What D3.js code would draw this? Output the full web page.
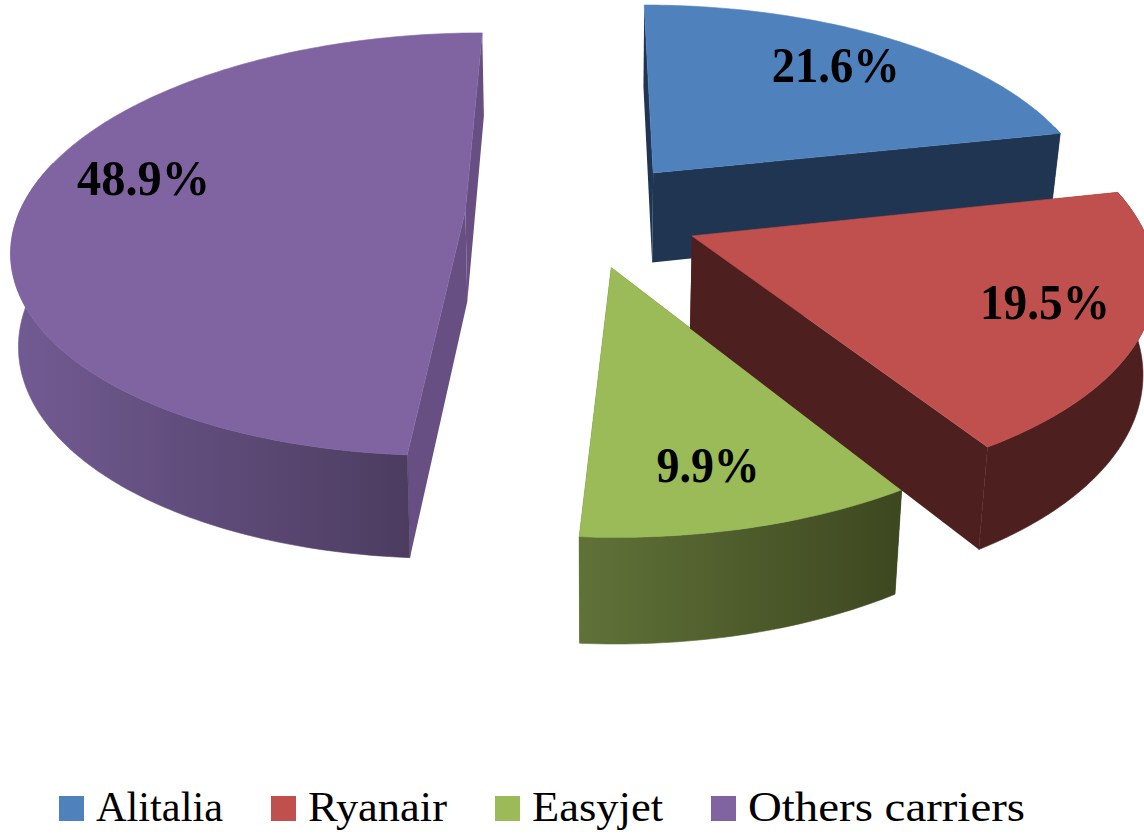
<!DOCTYPE html>
<html><head><meta charset="utf-8">
<script src="https://cdn.jsdelivr.net/npm/d3@7/dist/d3.min.js"></script>
<style>html,body{margin:0;padding:0;background:#fff}svg{display:block}text{font-family:"Liberation Serif",serif;fill:#000}</style>
</head><body><svg id="c" width="1144" height="835"></svg>
<script>
const categories = ["Alitalia","Ryanair","Easyjet","Others carriers"];
const values = [21.6,19.5,9.9,48.9];
const topColors = ["#4f81bd","#c0504d","#9bbb59","#8064a2"];
const faceColors = ["#1f3552","#4e1f1f","#3f4a22","#674f84"];
const rimFrom = ["#1f3552","#4e1f1f","#607238","#725b93"];
const rimTo = ["#1f3552","#4e1f1f","#3d4720","#4c3c60"];
const offsetRight = [0.153,0.231,0.052,-0.273];
const offsetFar = [0.197,-0.112,-0.256,0.01];
const drawOrder = [3,0,2,1];
const labelNudge = [[-3,-1],[9,-1],[-6,7],[19,-26]];
const legendX = [59,271,495,711];
const legendW = [127,139,131,277];
const labelW = [128,130,103,133];

const svg = d3.select("#c");
const cx=587, vy=-1073, k=0.347, a0=0.000778, b=0.000125, depthBase=31, depthSlope=0.047, sx0=610, shrinkR=0.977, shrinkL=0.987;
const color = d3.scaleOrdinal(categories, topColors);
const total = d3.sum(values);
const pie = d3.pie().sort(null).startAngle(0).endAngle(2*Math.PI)(values.map(v=>v/total));
const pathLine = d3.line();
const defs = svg.append("defs");

function proj(gx, gy){ // gx right, gy far in ground units
  const D = 1/(a0 + b*gy);
  return {x: cx + k*D*gx, y: vy + D, D};
}
const topPt = p => [p.x, p.y];
const botPt = p => [sx0 + (p.x-sx0)*(p.x<sx0?shrinkL:shrinkR), p.y + depthBase + depthSlope*p.D];

drawOrder.forEach(i=>{
  const s = pie[i];
  const ox = offsetRight[i], oy = offsetFar[i];
  const at = (t,r)=>proj(ox + r*Math.sin(t), oy + r*Math.cos(t));
  const n = Math.max(8, Math.ceil((s.endAngle-s.startAngle)*60));
  const angles = d3.range(n+1).map(j=>s.startAngle + (s.endAngle-s.startAngle)*j/n);
  const rim = angles.map(t=>at(t,1));
  const frontRim = angles.filter(t=>Math.cos(t)<0.25).map(t=>at(t,1));
  const apex = at(0,0);
  const g = svg.append("g").attr("class","slice").attr("data-name",categories[i]);
  const gid = "rim"+i;
  const grad = defs.append("linearGradient").attr("id",gid);
  grad.append("stop").attr("offset","0%").attr("stop-color",rimFrom[i]);
  grad.append("stop").attr("offset","100%").attr("stop-color",rimTo[i]);
  const first = rim[0], last = rim[rim.length-1];
  [first,last].forEach(e=>{
    g.append("path").attr("d",pathLine([topPt(apex),topPt(e),botPt(e),botPt(apex)])+"Z")
     .attr("fill",faceColors[i]);
  });
  if(frontRim.length>1){
    g.append("path").attr("d",pathLine(frontRim.map(topPt).concat(frontRim.map(botPt).reverse()))+"Z")
     .attr("fill",`url(#${gid})`).attr("stroke",`url(#${gid})`).attr("stroke-width",.6);
  }
  g.append("path").attr("d",pathLine([topPt(apex)].concat(rim.map(topPt)))+"Z")
   .attr("fill",color(categories[i])).attr("stroke",color(categories[i])).attr("stroke-width",.6);
});

pie.forEach((s,i)=>{
  const mid=(s.startAngle+s.endAngle)/2, r=0.77;
  const p = proj(offsetRight[i] + r*Math.sin(mid), offsetFar[i] + r*Math.cos(mid));
  svg.append("text").attr("x",p.x+labelNudge[i][0]).attr("y",p.y+labelNudge[i][1]+16)
    .attr("text-anchor","middle").attr("font-size",50).attr("font-weight","bold")
    .attr("textLength",labelW[i]).attr("lengthAdjust","spacingAndGlyphs")
    .text(values[i].toFixed(1)+"%");
});

categories.forEach((c,i)=>{
  svg.append("rect").attr("x",legendX[i]).attr("y",796).attr("width",25).attr("height",25).attr("fill",color(c));
  svg.append("text").attr("x",legendX[i]+37).attr("y",821).attr("font-size",42)
    .attr("textLength",legendW[i]).attr("lengthAdjust","spacingAndGlyphs").text(c);
});
</script></body></html>
